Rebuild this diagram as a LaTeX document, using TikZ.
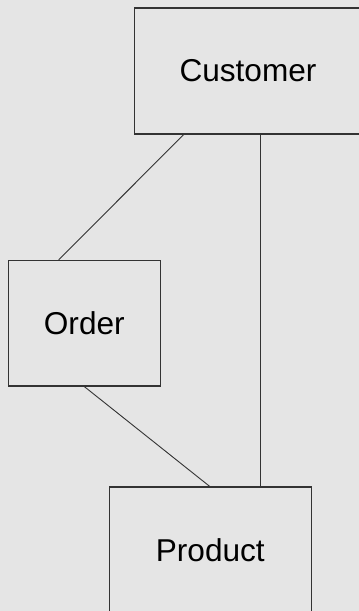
\documentclass[tikz,border=0pt]{standalone}
\usepackage{fontspec}
\setmainfont{Liberation Sans}
\definecolor{canvas}{HTML}{E5E5E5}
\definecolor{ink}{HTML}{333333}
\begin{document}
\begin{tikzpicture}[x=1pt,y=-1pt,
  entity/.style={draw=ink,line width=1.2pt,fill=canvas,inner sep=0pt,
    font=\fontsize{31.6}{38}\selectfont,text=black},
  link/.style={draw=ink,line width=0.9pt}]
  % canvas and frame
  \clip (0,0) rectangle (359,611);
  \fill[canvas] (0,0) rectangle (359,611);
  % entities
  \node[entity,minimum width=226.6pt,minimum height=126pt] (cust) at (248,71) {Customer};
  \node[entity,minimum width=152pt,minimum height=125.7pt] (ord) at (84.3,323.2) {Order};
  \node[entity,minimum width=202pt,minimum height=126pt] (prod) at (210.3,550) {Product};
  % relations
  \draw[link] ([xshift=49.6pt]cust.south west) -- ([xshift=51pt]ord.north west);
  \draw[link] ([xshift=126.3pt]cust.south west) -- ([xshift=151.7pt]prod.north west);
  \draw[link] ([xshift=76.7pt]ord.south west) -- ([xshift=101pt]prod.north west);
\end{tikzpicture}
\end{document}
